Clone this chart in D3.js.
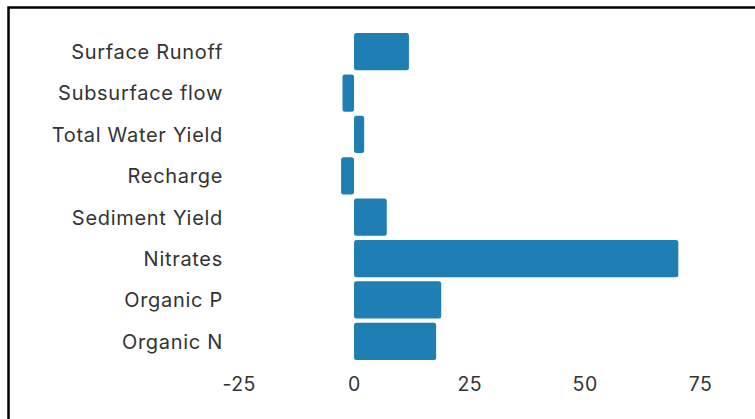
<!DOCTYPE html>
<html>
<head>
<meta charset="utf-8">
<script src="https://cdn.jsdelivr.net/npm/d3@7"></script>
<style>
  html, body { margin: 0; padding: 0; background: #fff; }
  svg { display: block; }
</style>
</head>
<body>
<svg id="chart" width="755" height="419"></svg>
<script>
// Percentage change per water-quality / hydrology component
const categories = ["Surface Runoff", "Subsurface flow", "Total Water Yield", "Recharge",
                    "Sediment Yield", "Nitrates", "Organic P", "Organic N"];
const values = [11.9, -2.5, 2.2, -2.8, 7.1, 70.3, 18.9, 17.8];
const xTicks = [-25, 0, 25, 50, 75];

const svg = d3.select("#chart");
const W = 755, H = 419;

// frame
svg.append("rect")
  .attr("x", 8.5).attr("y", 7.5)
  .attr("width", W + 10).attr("height", H + 10)
  .attr("fill", "none").attr("stroke", "#000").attr("stroke-width", 2.5);

const x = d3.scaleLinear().domain([-25, 75]).range([238.7, 700]);
const y = d3.scaleBand().domain(categories).range([31, 362])
  .paddingInner(0.1).paddingOuter(0.05);

const font = "Inter, 'Noto Sans', sans-serif";

// bars
svg.append("g").selectAll("rect")
  .data(values)
  .join("rect")
  .attr("x", d => x(Math.min(0, d)))
  .attr("width", d => Math.abs(x(d) - x(0)))
  .attr("y", (d, i) => y(categories[i]))
  .attr("height", y.bandwidth())
  .attr("rx", 2.5)
  .attr("fill", "#1f7eb4");

// category axis (labels only)
const yAxis = svg.append("g")
  .attr("transform", "translate(232,1)")
  .call(d3.axisLeft(y).tickSize(0).tickPadding(9));
yAxis.select(".domain").remove();
yAxis.selectAll("text")
  .attr("font-family", font).attr("font-size", 20)
  .attr("letter-spacing", 0.7).attr("fill", "#333");

// value axis (labels only)
const xAxis = svg.append("g")
  .attr("transform", "translate(0,377)")
  .call(d3.axisBottom(x).tickValues(xTicks).tickFormat(d => String(d)).tickSize(0).tickPadding(0));
xAxis.select(".domain").remove();
xAxis.selectAll("text")
  .attr("font-family", font).attr("font-size", 19.5)
  .attr("letter-spacing", 0.5).attr("fill", "#333");
</script>
</body>
</html>
